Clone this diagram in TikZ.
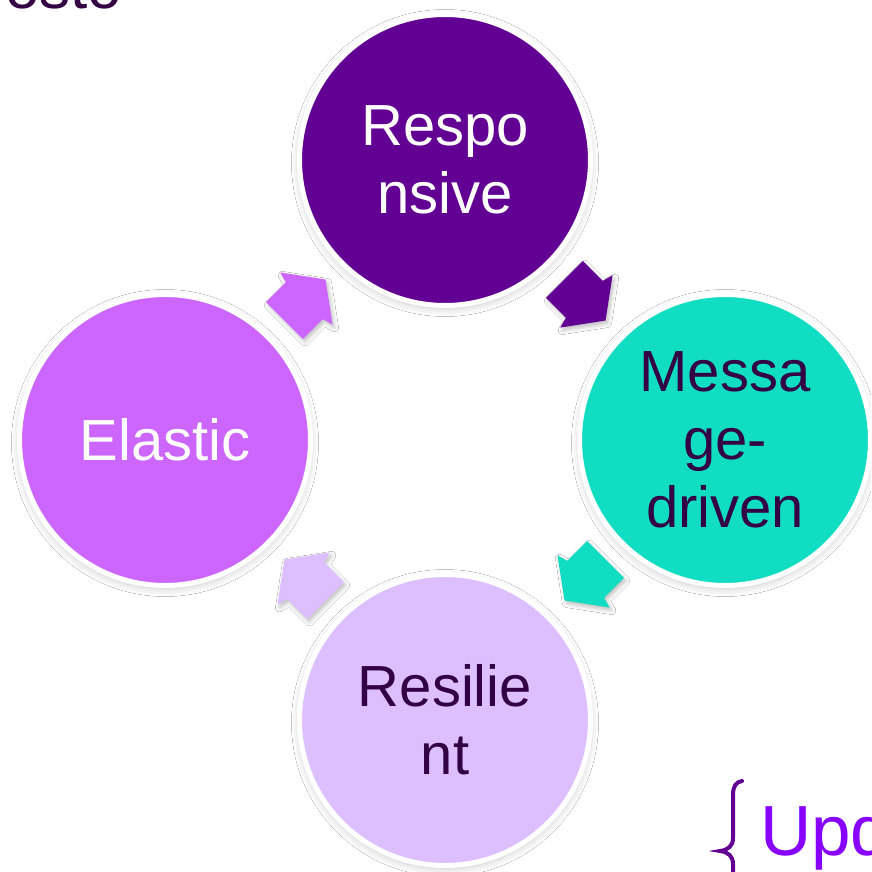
\documentclass[tikz,border=0pt]{standalone}
\usepackage{fontspec}
\setmainfont{Liberation Sans}
\usetikzlibrary{calc,shadows.blur}
\definecolor{respC}{RGB}{98,0,148}
\definecolor{msgC}{RGB}{16,221,194}
\definecolor{resC}{RGB}{221,191,255}
\definecolor{elaC}{RGB}{204,102,255}
\definecolor{txtdark}{RGB}{51,0,68}
\definecolor{updC}{RGB}{136,0,255}
\tikzset{
  bubble/.style={circle, inner sep=0pt, minimum size=291pt, draw=white, line width=5pt,
    align=center, font=\fontsize{58}{68}\selectfont,
    blur shadow={shadow xshift=0pt, shadow yshift=-3pt, shadow blur radius=8pt, shadow opacity=22}},
  arrowfx/.style={blur shadow={shadow xshift=2pt, shadow yshift=-3pt, shadow blur radius=4pt, shadow opacity=25}},
  bracestroke/.style={draw=respC, line width=4pt, line cap=round},
}
\newcommand\flowarrow[3]{%
  \fill[#1, arrowfx] ($(#2)+({#3}:-29)+({#3+90}:26)$) -- ($(#2)+({#3}:-1)+({#3+90}:26)$)
    -- ($(#2)+({#3}:2)+({#3+90}:37)$) -- ($(#2)+({#3}:29)$)
    -- ($(#2)+({#3}:2)+({#3-90}:37)$) -- ($(#2)+({#3}:-1)+({#3-90}:26)$)
    -- ($(#2)+({#3}:-29)+({#3-90}:26)$) -- cycle;}
\begin{document}
\begin{tikzpicture}[x=1pt,y=-1pt]
\useasboundingbox (0,0) rectangle (871,872);
\clip (0,0) rectangle (871,872);
\fill[white] (0,0) rectangle (871,872);

\node[anchor=base west, inner sep=0pt, text=txtdark, font=\fontsize{62}{70}\selectfont] (title) at (5,9) {osto};

\node[bubble, fill=respC, text=white] (resp) at (445,160) {Respo\\nsive};
\node[bubble, fill=msgC, text=txtdark] (msg) at (725,440) {Messa\\ge-\\driven};
\node[bubble, fill=resC, text=txtdark] (res) at (445,720) {Resilie\\nt};
\node[bubble, fill=elaC, text=white] (ela) at (165,440) {Elastic};

\coordinate (m1) at ($(resp.center)!0.5!(msg.center)$);
\coordinate (m2) at ($(msg.center)!0.5!(res.center)$);
\coordinate (m3) at ($(res.center)!0.5!(ela.center)$);
\coordinate (m4) at ($(ela.center)!0.5!(resp.center)$);
\flowarrow{respC}{m1}{45}
\flowarrow{msgC}{m2}{135}
\flowarrow{resC}{m3}{225}
\flowarrow{elaC}{m4}{315}

\coordinate (bt) at (742,781);
\coordinate (bm) at (720,851);
\coordinate (bb) at (733,900);
\draw[bracestroke] (bt) .. controls (736,782) and (733,786) .. (733,795) -- (733,838)
  .. controls (733,846) and (728,850) .. (bm)
  .. controls (728,852) and (733,856) .. (733,864) -- (bb);

\node[anchor=base west, inner sep=0pt, text=updC, font=\fontsize{71}{80}\selectfont] (upd) at (760,855) {Upd};
\end{tikzpicture}
\end{document}
